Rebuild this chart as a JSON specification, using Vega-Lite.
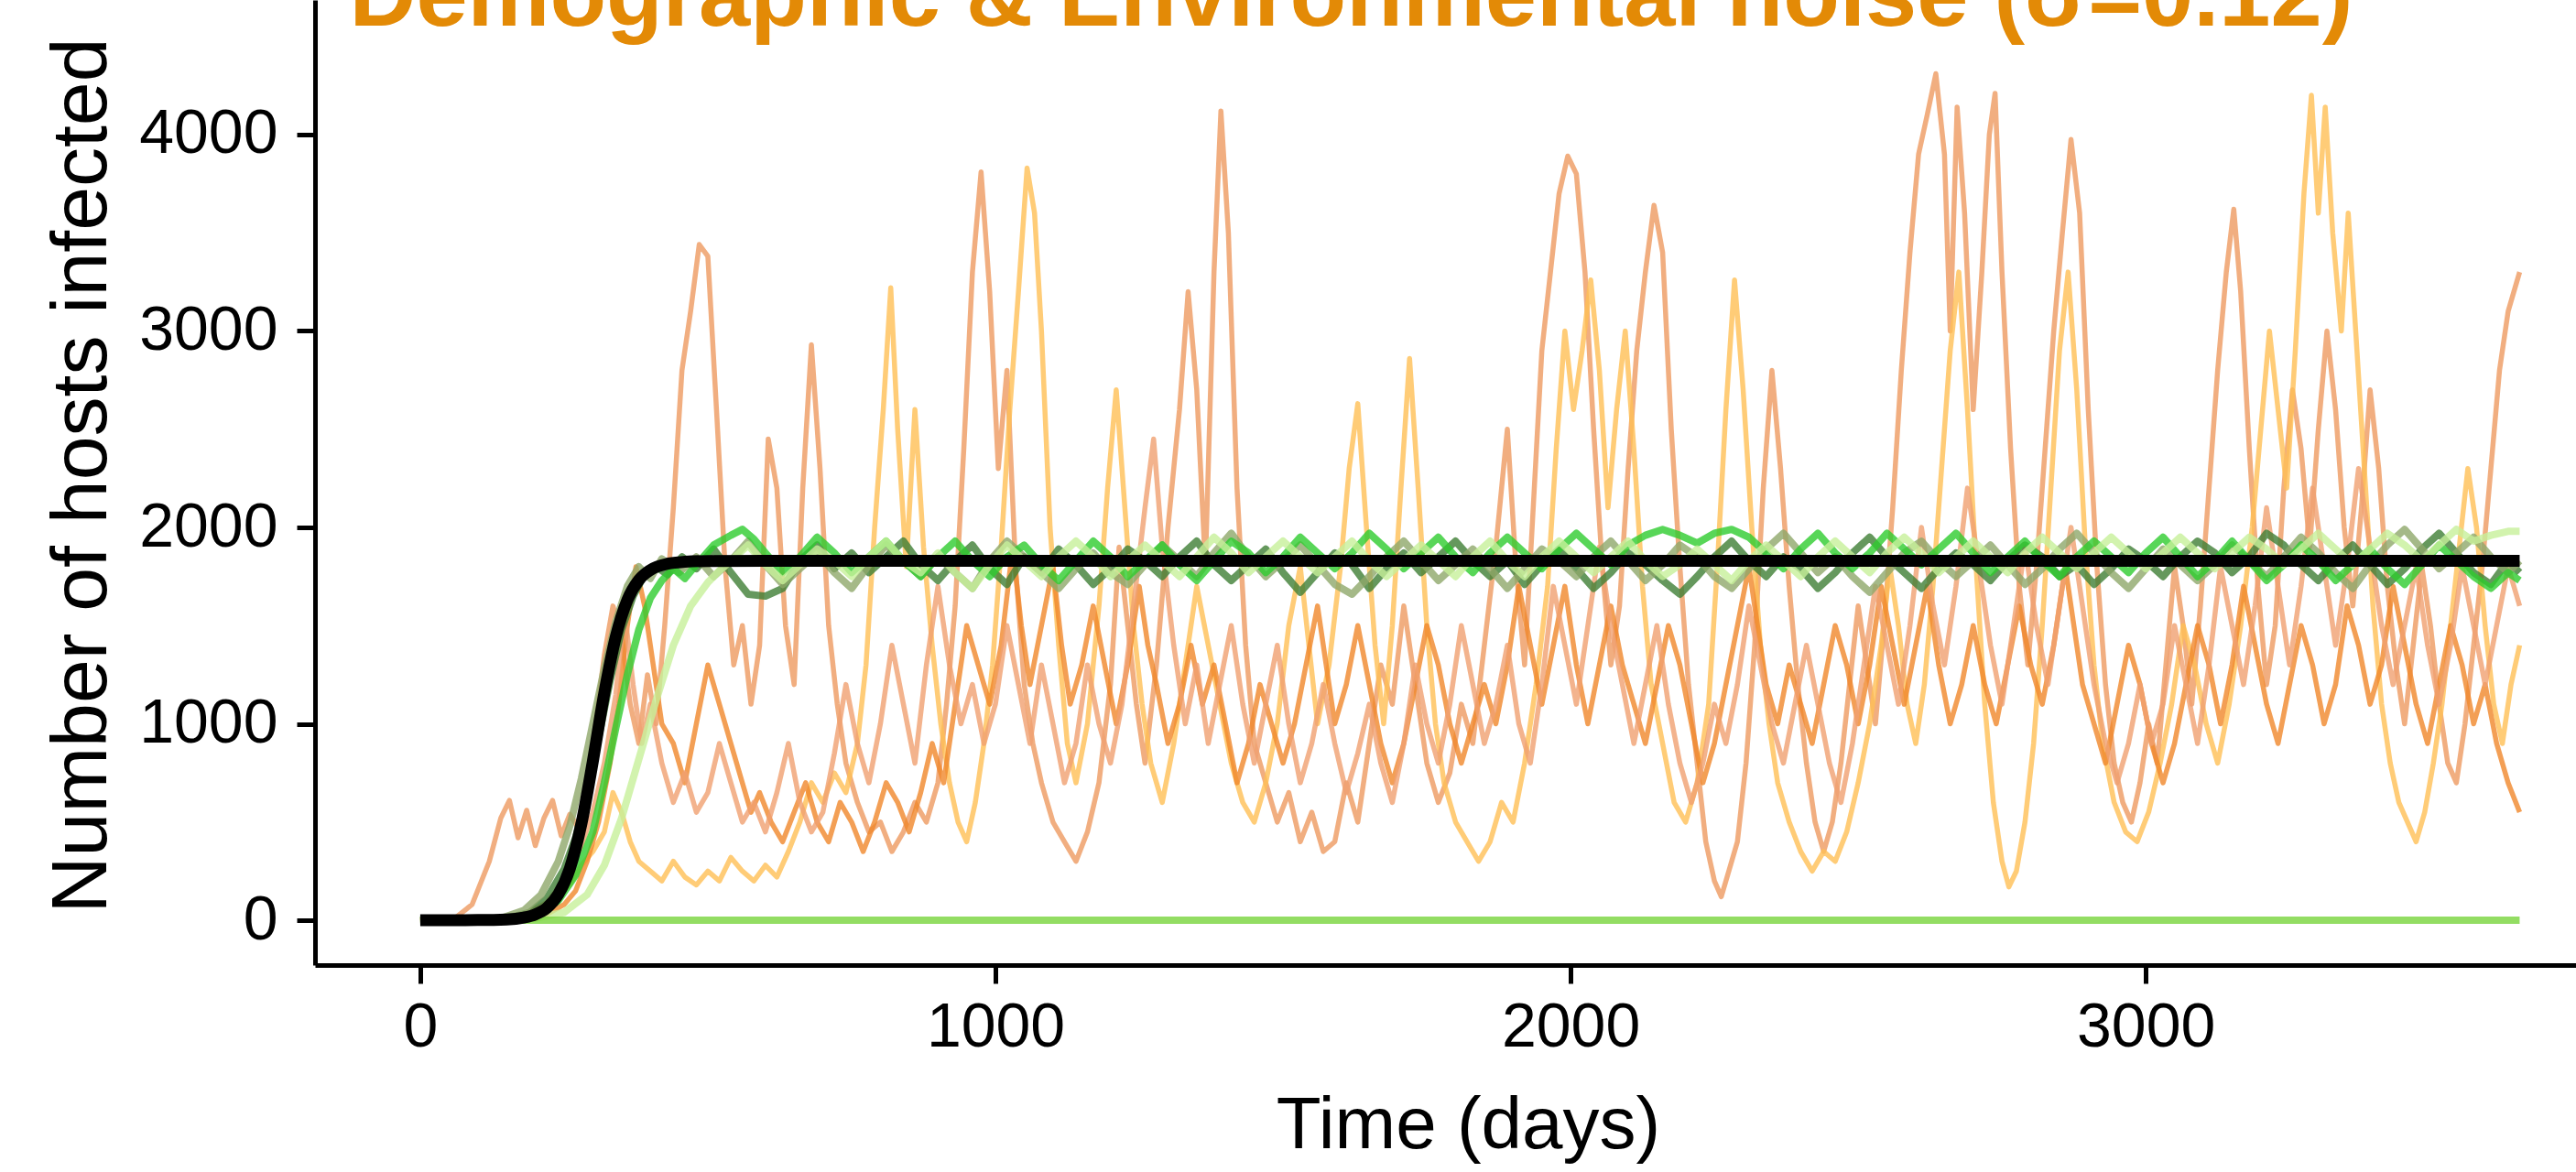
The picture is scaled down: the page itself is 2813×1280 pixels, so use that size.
{
"$schema": "https://vega.github.io/schema/vega-lite/v6.json",
"width": 2469, "height": 1054,
"autosize": "none",
"padding": {"left": 344, "top": 0, "right": 0, "bottom": 226},
"background": "white",
"config": {
  "view": {"stroke": null},
  "axis": {"grid": false, "domainColor": "black", "domainWidth": 5, "tickColor": "black", "tickWidth": 5, "tickSize": 20, "labelFont": "Liberation Sans", "labelFontSize": 68, "labelColor": "black", "titleFont": "Liberation Sans", "titleFontWeight": "normal", "titleColor": "black"}
},
"data": {"values": [
{"s":"S","t":0,"v":0},{"s":"S","t":60,"v":10},{"s":"S","t":90,"v":80},{"s":"S","t":120,"v":300},{"s":"S","t":140,"v":520},{"s":"S","t":155,"v":610},{"s":"S","t":170,"v":420},{"s":"S","t":185,"v":560},{"s":"S","t":200,"v":380},{"s":"S","t":215,"v":520},{"s":"S","t":230,"v":610},{"s":"S","t":245,"v":430},{"s":"S","t":260,"v":540},{"s":"S","t":275,"v":470},{"s":"S","t":290,"v":700},{"s":"S","t":305,"v":1000},{"s":"S","t":320,"v":1350},{"s":"S","t":335,"v":1600},{"s":"S","t":350,"v":1450},{"s":"S","t":365,"v":1100},{"s":"S","t":380,"v":900},{"s":"S","t":395,"v":1250},{"s":"S","t":410,"v":1000},{"s":"S","t":425,"v":1500},{"s":"S","t":440,"v":2100},{"s":"S","t":455,"v":2800},{"s":"S","t":470,"v":3100},{"s":"S","t":485,"v":3440},{"s":"S","t":500,"v":3380},{"s":"S","t":515,"v":2600},{"s":"S","t":530,"v":1800},{"s":"S","t":545,"v":1300},{"s":"S","t":560,"v":1500},{"s":"S","t":575,"v":1100},{"s":"S","t":590,"v":1400},{"s":"S","t":605,"v":2450},{"s":"S","t":620,"v":2200},{"s":"S","t":635,"v":1500},{"s":"S","t":650,"v":1200},{"s":"S","t":665,"v":2200},{"s":"S","t":680,"v":2930},{"s":"S","t":695,"v":2300},{"s":"S","t":710,"v":1500},{"s":"S","t":725,"v":1100},{"s":"S","t":740,"v":800},{"s":"S","t":760,"v":600},{"s":"S","t":780,"v":450},{"s":"S","t":800,"v":500},{"s":"S","t":820,"v":350},{"s":"S","t":840,"v":450},{"s":"S","t":860,"v":600},{"s":"S","t":880,"v":500},{"s":"S","t":900,"v":700},{"s":"S","t":915,"v":1100},{"s":"S","t":930,"v":1600},{"s":"S","t":945,"v":2400},{"s":"S","t":960,"v":3300},{"s":"S","t":975,"v":3810},{"s":"S","t":990,"v":3200},{"s":"S","t":1005,"v":2300},{"s":"S","t":1020,"v":2800},{"s":"S","t":1035,"v":1800},{"s":"S","t":1050,"v":1200},{"s":"S","t":1065,"v":900},{"s":"S","t":1080,"v":700},{"s":"S","t":1100,"v":500},{"s":"S","t":1120,"v":400},{"s":"S","t":1140,"v":300},{"s":"S","t":1160,"v":450},{"s":"S","t":1180,"v":700},{"s":"S","t":1200,"v":1200},{"s":"S","t":1215,"v":1900},{"s":"S","t":1230,"v":1500},{"s":"S","t":1245,"v":1100},{"s":"S","t":1260,"v":800},{"s":"S","t":1280,"v":1300},{"s":"S","t":1300,"v":2000},{"s":"S","t":1320,"v":2600},{"s":"S","t":1335,"v":3200},{"s":"S","t":1350,"v":2700},{"s":"S","t":1365,"v":1800},{"s":"S","t":1380,"v":3300},{"s":"S","t":1392,"v":4120},{"s":"S","t":1405,"v":3500},{"s":"S","t":1420,"v":2200},{"s":"S","t":1435,"v":1400},{"s":"S","t":1450,"v":900},{"s":"S","t":1470,"v":700},{"s":"S","t":1490,"v":500},{"s":"S","t":1510,"v":650},{"s":"S","t":1530,"v":400},{"s":"S","t":1550,"v":550},{"s":"S","t":1570,"v":350},{"s":"S","t":1590,"v":400},{"s":"S","t":1610,"v":700},{"s":"S","t":1630,"v":500},{"s":"S","t":1650,"v":900},{"s":"S","t":1670,"v":1300},{"s":"S","t":1690,"v":1100},{"s":"S","t":1710,"v":1600},{"s":"S","t":1730,"v":1200},{"s":"S","t":1750,"v":800},{"s":"S","t":1770,"v":600},{"s":"S","t":1790,"v":750},{"s":"S","t":1810,"v":1100},{"s":"S","t":1830,"v":900},{"s":"S","t":1850,"v":1400},{"s":"S","t":1870,"v":1900},{"s":"S","t":1890,"v":2500},{"s":"S","t":1905,"v":1800},{"s":"S","t":1920,"v":1300},{"s":"S","t":1935,"v":2100},{"s":"S","t":1950,"v":2900},{"s":"S","t":1965,"v":3300},{"s":"S","t":1980,"v":3700},{"s":"S","t":1995,"v":3890},{"s":"S","t":2010,"v":3800},{"s":"S","t":2025,"v":3300},{"s":"S","t":2040,"v":2500},{"s":"S","t":2055,"v":1800},{"s":"S","t":2070,"v":1300},{"s":"S","t":2085,"v":1600},{"s":"S","t":2100,"v":2300},{"s":"S","t":2115,"v":2900},{"s":"S","t":2130,"v":3300},{"s":"S","t":2145,"v":3640},{"s":"S","t":2160,"v":3400},{"s":"S","t":2175,"v":2500},{"s":"S","t":2190,"v":1800},{"s":"S","t":2205,"v":1200},{"s":"S","t":2220,"v":800},{"s":"S","t":2235,"v":400},{"s":"S","t":2250,"v":200},{"s":"S","t":2262,"v":120},{"s":"S","t":2275,"v":250},{"s":"S","t":2290,"v":400},{"s":"S","t":2305,"v":800},{"s":"S","t":2320,"v":1400},{"s":"S","t":2335,"v":2200},{"s":"S","t":2350,"v":2800},{"s":"S","t":2365,"v":2300},{"s":"S","t":2380,"v":1700},{"s":"S","t":2395,"v":1200},{"s":"S","t":2410,"v":800},{"s":"S","t":2425,"v":500},{"s":"S","t":2440,"v":350},{"s":"S","t":2455,"v":500},{"s":"S","t":2470,"v":800},{"s":"S","t":2485,"v":1200},{"s":"S","t":2500,"v":1600},{"s":"S","t":2515,"v":1300},{"s":"S","t":2530,"v":1000},{"s":"S","t":2545,"v":1500},{"s":"S","t":2560,"v":2100},{"s":"S","t":2575,"v":2800},{"s":"S","t":2590,"v":3400},{"s":"S","t":2605,"v":3900},{"s":"S","t":2620,"v":4100},{"s":"S","t":2635,"v":4310},{"s":"S","t":2650,"v":3900},{"s":"S","t":2660,"v":3000},{"s":"S","t":2672,"v":4140},{"s":"S","t":2685,"v":3600},{"s":"S","t":2700,"v":2600},{"s":"S","t":2715,"v":3300},{"s":"S","t":2728,"v":4000},{"s":"S","t":2738,"v":4210},{"s":"S","t":2750,"v":3300},{"s":"S","t":2765,"v":2400},{"s":"S","t":2780,"v":1700},{"s":"S","t":2795,"v":1300},{"s":"S","t":2810,"v":1800},{"s":"S","t":2825,"v":2400},{"s":"S","t":2840,"v":3000},{"s":"S","t":2855,"v":3500},{"s":"S","t":2870,"v":3975},{"s":"S","t":2885,"v":3600},{"s":"S","t":2900,"v":2600},{"s":"S","t":2915,"v":1800},{"s":"S","t":2930,"v":1200},{"s":"S","t":2945,"v":800},{"s":"S","t":2960,"v":600},{"s":"S","t":2975,"v":500},{"s":"S","t":2990,"v":700},{"s":"S","t":3005,"v":1000},{"s":"S","t":3020,"v":800},{"s":"S","t":3035,"v":1300},{"s":"S","t":3050,"v":1800},{"s":"S","t":3065,"v":1500},{"s":"S","t":3080,"v":1100},{"s":"S","t":3095,"v":1600},{"s":"S","t":3110,"v":2200},{"s":"S","t":3125,"v":2800},{"s":"S","t":3140,"v":3300},{"s":"S","t":3153,"v":3620},{"s":"S","t":3165,"v":3200},{"s":"S","t":3180,"v":2400},{"s":"S","t":3195,"v":1700},{"s":"S","t":3210,"v":1200},{"s":"S","t":3225,"v":1500},{"s":"S","t":3240,"v":2200},{"s":"S","t":3255,"v":2700},{"s":"S","t":3270,"v":2400},{"s":"S","t":3285,"v":1900},{"s":"S","t":3300,"v":2500},{"s":"S","t":3315,"v":3000},{"s":"S","t":3330,"v":2600},{"s":"S","t":3345,"v":2000},{"s":"S","t":3360,"v":1600},{"s":"S","t":3375,"v":2100},{"s":"S","t":3390,"v":2700},{"s":"S","t":3405,"v":2300},{"s":"S","t":3420,"v":1700},{"s":"S","t":3435,"v":1300},{"s":"S","t":3450,"v":1000},{"s":"S","t":3465,"v":1400},{"s":"S","t":3480,"v":1800},{"s":"S","t":3495,"v":1500},{"s":"S","t":3510,"v":1100},{"s":"S","t":3525,"v":800},{"s":"S","t":3540,"v":700},{"s":"S","t":3555,"v":1000},{"s":"S","t":3570,"v":1400},{"s":"S","t":3585,"v":1800},{"s":"S","t":3600,"v":2300},{"s":"S","t":3615,"v":2800},{"s":"S","t":3630,"v":3100},{"s":"S","t":3650,"v":3300},
{"s":"Y","t":0,"v":0},{"s":"Y","t":150,"v":10},{"s":"Y","t":200,"v":40},{"s":"Y","t":230,"v":100},{"s":"Y","t":260,"v":180},{"s":"Y","t":280,"v":280},{"s":"Y","t":300,"v":350},{"s":"Y","t":320,"v":450},{"s":"Y","t":335,"v":650},{"s":"Y","t":350,"v":550},{"s":"Y","t":365,"v":400},{"s":"Y","t":380,"v":300},{"s":"Y","t":400,"v":250},{"s":"Y","t":420,"v":200},{"s":"Y","t":440,"v":300},{"s":"Y","t":460,"v":220},{"s":"Y","t":480,"v":180},{"s":"Y","t":500,"v":250},{"s":"Y","t":520,"v":200},{"s":"Y","t":540,"v":320},{"s":"Y","t":560,"v":250},{"s":"Y","t":580,"v":200},{"s":"Y","t":600,"v":280},{"s":"Y","t":620,"v":220},{"s":"Y","t":640,"v":350},{"s":"Y","t":660,"v":500},{"s":"Y","t":680,"v":700},{"s":"Y","t":700,"v":600},{"s":"Y","t":720,"v":750},{"s":"Y","t":740,"v":650},{"s":"Y","t":760,"v":900},{"s":"Y","t":775,"v":1300},{"s":"Y","t":790,"v":2000},{"s":"Y","t":805,"v":2600},{"s":"Y","t":818,"v":3220},{"s":"Y","t":830,"v":2500},{"s":"Y","t":845,"v":1800},{"s":"Y","t":860,"v":2600},{"s":"Y","t":875,"v":1900},{"s":"Y","t":890,"v":1400},{"s":"Y","t":905,"v":1000},{"s":"Y","t":920,"v":700},{"s":"Y","t":935,"v":500},{"s":"Y","t":950,"v":400},{"s":"Y","t":965,"v":600},{"s":"Y","t":980,"v":900},{"s":"Y","t":995,"v":1300},{"s":"Y","t":1010,"v":1900},{"s":"Y","t":1025,"v":2600},{"s":"Y","t":1040,"v":3200},{"s":"Y","t":1055,"v":3830},{"s":"Y","t":1068,"v":3600},{"s":"Y","t":1080,"v":3000},{"s":"Y","t":1095,"v":2000},{"s":"Y","t":1110,"v":1400},{"s":"Y","t":1125,"v":900},{"s":"Y","t":1140,"v":700},{"s":"Y","t":1160,"v":1000},{"s":"Y","t":1180,"v":1600},{"s":"Y","t":1195,"v":2200},{"s":"Y","t":1210,"v":2700},{"s":"Y","t":1225,"v":2100},{"s":"Y","t":1240,"v":1500},{"s":"Y","t":1255,"v":1100},{"s":"Y","t":1270,"v":800},{"s":"Y","t":1290,"v":600},{"s":"Y","t":1310,"v":900},{"s":"Y","t":1330,"v":1300},{"s":"Y","t":1350,"v":1700},{"s":"Y","t":1370,"v":1400},{"s":"Y","t":1390,"v":1100},{"s":"Y","t":1410,"v":800},{"s":"Y","t":1430,"v":600},{"s":"Y","t":1450,"v":500},{"s":"Y","t":1470,"v":700},{"s":"Y","t":1490,"v":1000},{"s":"Y","t":1510,"v":1500},{"s":"Y","t":1530,"v":1800},{"s":"Y","t":1545,"v":1400},{"s":"Y","t":1560,"v":1000},{"s":"Y","t":1580,"v":1300},{"s":"Y","t":1600,"v":1800},{"s":"Y","t":1615,"v":2300},{"s":"Y","t":1630,"v":2630},{"s":"Y","t":1645,"v":2000},{"s":"Y","t":1660,"v":1400},{"s":"Y","t":1675,"v":1000},{"s":"Y","t":1690,"v":1500},{"s":"Y","t":1705,"v":2200},{"s":"Y","t":1720,"v":2860},{"s":"Y","t":1735,"v":2200},{"s":"Y","t":1750,"v":1500},{"s":"Y","t":1765,"v":1000},{"s":"Y","t":1780,"v":700},{"s":"Y","t":1800,"v":500},{"s":"Y","t":1820,"v":400},{"s":"Y","t":1840,"v":300},{"s":"Y","t":1860,"v":400},{"s":"Y","t":1880,"v":600},{"s":"Y","t":1900,"v":500},{"s":"Y","t":1920,"v":800},{"s":"Y","t":1940,"v":1200},{"s":"Y","t":1960,"v":1700},{"s":"Y","t":1975,"v":2400},{"s":"Y","t":1990,"v":3000},{"s":"Y","t":2005,"v":2600},{"s":"Y","t":2020,"v":2900},{"s":"Y","t":2035,"v":3260},{"s":"Y","t":2050,"v":2800},{"s":"Y","t":2065,"v":2100},{"s":"Y","t":2080,"v":2600},{"s":"Y","t":2095,"v":3000},{"s":"Y","t":2110,"v":2400},{"s":"Y","t":2125,"v":1700},{"s":"Y","t":2140,"v":1200},{"s":"Y","t":2160,"v":900},{"s":"Y","t":2180,"v":600},{"s":"Y","t":2200,"v":500},{"s":"Y","t":2220,"v":700},{"s":"Y","t":2240,"v":1100},{"s":"Y","t":2255,"v":1800},{"s":"Y","t":2270,"v":2600},{"s":"Y","t":2285,"v":3260},{"s":"Y","t":2300,"v":2700},{"s":"Y","t":2315,"v":2000},{"s":"Y","t":2330,"v":1400},{"s":"Y","t":2345,"v":1000},{"s":"Y","t":2360,"v":700},{"s":"Y","t":2380,"v":500},{"s":"Y","t":2400,"v":350},{"s":"Y","t":2420,"v":250},{"s":"Y","t":2440,"v":350},{"s":"Y","t":2460,"v":300},{"s":"Y","t":2480,"v":450},{"s":"Y","t":2500,"v":700},{"s":"Y","t":2520,"v":1000},{"s":"Y","t":2540,"v":1400},{"s":"Y","t":2555,"v":1800},{"s":"Y","t":2570,"v":1500},{"s":"Y","t":2585,"v":1100},{"s":"Y","t":2600,"v":900},{"s":"Y","t":2615,"v":1200},{"s":"Y","t":2630,"v":1700},{"s":"Y","t":2645,"v":2300},{"s":"Y","t":2660,"v":2900},{"s":"Y","t":2675,"v":3300},{"s":"Y","t":2690,"v":2600},{"s":"Y","t":2705,"v":1800},{"s":"Y","t":2720,"v":1100},{"s":"Y","t":2735,"v":600},{"s":"Y","t":2750,"v":300},{"s":"Y","t":2762,"v":170},{"s":"Y","t":2775,"v":250},{"s":"Y","t":2790,"v":500},{"s":"Y","t":2805,"v":900},{"s":"Y","t":2820,"v":1500},{"s":"Y","t":2835,"v":2200},{"s":"Y","t":2850,"v":2900},{"s":"Y","t":2865,"v":3300},{"s":"Y","t":2880,"v":2700},{"s":"Y","t":2895,"v":1900},{"s":"Y","t":2910,"v":1300},{"s":"Y","t":2925,"v":900},{"s":"Y","t":2945,"v":600},{"s":"Y","t":2965,"v":450},{"s":"Y","t":2985,"v":400},{"s":"Y","t":3005,"v":550},{"s":"Y","t":3025,"v":800},{"s":"Y","t":3045,"v":1100},{"s":"Y","t":3065,"v":1500},{"s":"Y","t":3085,"v":1300},{"s":"Y","t":3105,"v":1000},{"s":"Y","t":3125,"v":800},{"s":"Y","t":3145,"v":1100},{"s":"Y","t":3165,"v":1500},{"s":"Y","t":3185,"v":2000},{"s":"Y","t":3200,"v":2500},{"s":"Y","t":3215,"v":3000},{"s":"Y","t":3230,"v":2600},{"s":"Y","t":3245,"v":2200},{"s":"Y","t":3260,"v":2900},{"s":"Y","t":3275,"v":3700},{"s":"Y","t":3288,"v":4200},{"s":"Y","t":3300,"v":3600},{"s":"Y","t":3312,"v":4140},{"s":"Y","t":3325,"v":3500},{"s":"Y","t":3340,"v":3000},{"s":"Y","t":3352,"v":3600},{"s":"Y","t":3365,"v":3000},{"s":"Y","t":3380,"v":2300},{"s":"Y","t":3395,"v":1600},{"s":"Y","t":3410,"v":1100},{"s":"Y","t":3425,"v":800},{"s":"Y","t":3440,"v":600},{"s":"Y","t":3455,"v":500},{"s":"Y","t":3470,"v":400},{"s":"Y","t":3485,"v":550},{"s":"Y","t":3500,"v":800},{"s":"Y","t":3515,"v":1100},{"s":"Y","t":3530,"v":1500},{"s":"Y","t":3545,"v":1900},{"s":"Y","t":3560,"v":2300},{"s":"Y","t":3575,"v":2000},{"s":"Y","t":3590,"v":1500},{"s":"Y","t":3605,"v":1100},{"s":"Y","t":3620,"v":900},{"s":"Y","t":3635,"v":1200},{"s":"Y","t":3650,"v":1400},
{"s":"O","t":0,"v":0},{"s":"O","t":180,"v":5},{"s":"O","t":220,"v":30},{"s":"O","t":250,"v":80},{"s":"O","t":270,"v":150},{"s":"O","t":290,"v":300},{"s":"O","t":310,"v":500},{"s":"O","t":330,"v":800},{"s":"O","t":345,"v":1100},{"s":"O","t":360,"v":1500},{"s":"O","t":375,"v":1800},{"s":"O","t":390,"v":1600},{"s":"O","t":405,"v":1300},{"s":"O","t":420,"v":1000},{"s":"O","t":440,"v":900},{"s":"O","t":460,"v":700},{"s":"O","t":480,"v":1000},{"s":"O","t":500,"v":1300},{"s":"O","t":520,"v":1100},{"s":"O","t":540,"v":900},{"s":"O","t":560,"v":700},{"s":"O","t":575,"v":550},{"s":"O","t":590,"v":650},{"s":"O","t":610,"v":500},{"s":"O","t":630,"v":400},{"s":"O","t":650,"v":550},{"s":"O","t":670,"v":700},{"s":"O","t":690,"v":500},{"s":"O","t":710,"v":400},{"s":"O","t":730,"v":600},{"s":"O","t":750,"v":500},{"s":"O","t":770,"v":350},{"s":"O","t":790,"v":500},{"s":"O","t":810,"v":700},{"s":"O","t":830,"v":600},{"s":"O","t":850,"v":450},{"s":"O","t":870,"v":650},{"s":"O","t":890,"v":900},{"s":"O","t":910,"v":700},{"s":"O","t":930,"v":1100},{"s":"O","t":950,"v":1500},{"s":"O","t":970,"v":1300},{"s":"O","t":990,"v":1100},{"s":"O","t":1010,"v":1400},{"s":"O","t":1030,"v":1900},{"s":"O","t":1045,"v":1500},{"s":"O","t":1060,"v":1200},{"s":"O","t":1080,"v":1500},{"s":"O","t":1100,"v":1800},{"s":"O","t":1115,"v":1400},{"s":"O","t":1130,"v":1100},{"s":"O","t":1150,"v":1300},{"s":"O","t":1170,"v":1600},{"s":"O","t":1190,"v":1300},{"s":"O","t":1210,"v":1000},{"s":"O","t":1230,"v":1300},{"s":"O","t":1250,"v":1700},{"s":"O","t":1265,"v":1400},{"s":"O","t":1280,"v":1200},{"s":"O","t":1300,"v":900},{"s":"O","t":1320,"v":1100},{"s":"O","t":1340,"v":1400},{"s":"O","t":1360,"v":1100},{"s":"O","t":1380,"v":1300},{"s":"O","t":1400,"v":1000},{"s":"O","t":1420,"v":700},{"s":"O","t":1440,"v":900},{"s":"O","t":1460,"v":1200},{"s":"O","t":1480,"v":1000},{"s":"O","t":1500,"v":800},{"s":"O","t":1520,"v":1000},{"s":"O","t":1540,"v":1300},{"s":"O","t":1560,"v":1600},{"s":"O","t":1575,"v":1300},{"s":"O","t":1590,"v":1000},{"s":"O","t":1610,"v":1200},{"s":"O","t":1630,"v":1500},{"s":"O","t":1650,"v":1200},{"s":"O","t":1670,"v":900},{"s":"O","t":1690,"v":700},{"s":"O","t":1710,"v":900},{"s":"O","t":1730,"v":1200},{"s":"O","t":1750,"v":1500},{"s":"O","t":1770,"v":1300},{"s":"O","t":1790,"v":1000},{"s":"O","t":1810,"v":800},{"s":"O","t":1830,"v":1000},{"s":"O","t":1850,"v":1200},{"s":"O","t":1870,"v":1000},{"s":"O","t":1890,"v":1300},{"s":"O","t":1910,"v":1700},{"s":"O","t":1930,"v":1400},{"s":"O","t":1950,"v":1100},{"s":"O","t":1970,"v":1400},{"s":"O","t":1990,"v":1700},{"s":"O","t":2010,"v":1300},{"s":"O","t":2030,"v":1000},{"s":"O","t":2050,"v":1300},{"s":"O","t":2070,"v":1600},{"s":"O","t":2090,"v":1300},{"s":"O","t":2110,"v":1100},{"s":"O","t":2130,"v":900},{"s":"O","t":2150,"v":1200},{"s":"O","t":2170,"v":1500},{"s":"O","t":2190,"v":1300},{"s":"O","t":2210,"v":1000},{"s":"O","t":2230,"v":700},{"s":"O","t":2250,"v":900},{"s":"O","t":2270,"v":1200},{"s":"O","t":2290,"v":1500},{"s":"O","t":2310,"v":1800},{"s":"O","t":2325,"v":1500},{"s":"O","t":2340,"v":1200},{"s":"O","t":2360,"v":1000},{"s":"O","t":2380,"v":1300},{"s":"O","t":2400,"v":1100},{"s":"O","t":2420,"v":900},{"s":"O","t":2440,"v":1200},{"s":"O","t":2460,"v":1500},{"s":"O","t":2480,"v":1300},{"s":"O","t":2500,"v":1000},{"s":"O","t":2520,"v":1300},{"s":"O","t":2540,"v":1700},{"s":"O","t":2560,"v":1400},{"s":"O","t":2580,"v":1100},{"s":"O","t":2600,"v":1400},{"s":"O","t":2620,"v":1700},{"s":"O","t":2640,"v":1300},{"s":"O","t":2660,"v":1000},{"s":"O","t":2680,"v":1200},{"s":"O","t":2700,"v":1500},{"s":"O","t":2720,"v":1200},{"s":"O","t":2740,"v":1000},{"s":"O","t":2760,"v":1300},{"s":"O","t":2780,"v":1600},{"s":"O","t":2800,"v":1300},{"s":"O","t":2820,"v":1100},{"s":"O","t":2840,"v":1400},{"s":"O","t":2860,"v":1800},{"s":"O","t":2875,"v":1500},{"s":"O","t":2890,"v":1200},{"s":"O","t":2910,"v":1000},{"s":"O","t":2930,"v":800},{"s":"O","t":2950,"v":1100},{"s":"O","t":2970,"v":1400},{"s":"O","t":2990,"v":1200},{"s":"O","t":3010,"v":900},{"s":"O","t":3030,"v":700},{"s":"O","t":3050,"v":900},{"s":"O","t":3070,"v":1200},{"s":"O","t":3090,"v":1500},{"s":"O","t":3110,"v":1300},{"s":"O","t":3130,"v":1000},{"s":"O","t":3150,"v":1300},{"s":"O","t":3170,"v":1700},{"s":"O","t":3190,"v":1400},{"s":"O","t":3210,"v":1100},{"s":"O","t":3230,"v":900},{"s":"O","t":3250,"v":1200},{"s":"O","t":3270,"v":1500},{"s":"O","t":3290,"v":1300},{"s":"O","t":3310,"v":1000},{"s":"O","t":3330,"v":1200},{"s":"O","t":3350,"v":1600},{"s":"O","t":3370,"v":1400},{"s":"O","t":3390,"v":1100},{"s":"O","t":3410,"v":1300},{"s":"O","t":3430,"v":1700},{"s":"O","t":3450,"v":1400},{"s":"O","t":3470,"v":1100},{"s":"O","t":3490,"v":900},{"s":"O","t":3510,"v":1200},{"s":"O","t":3530,"v":1500},{"s":"O","t":3550,"v":1300},{"s":"O","t":3570,"v":1000},{"s":"O","t":3590,"v":1200},{"s":"O","t":3610,"v":900},{"s":"O","t":3630,"v":700},{"s":"O","t":3650,"v":550},
{"s":"S2","t":0,"v":0},{"s":"S2","t":120,"v":5},{"s":"S2","t":180,"v":30},{"s":"S2","t":220,"v":90},{"s":"S2","t":250,"v":200},{"s":"S2","t":280,"v":380},{"s":"S2","t":300,"v":550},{"s":"S2","t":320,"v":800},{"s":"S2","t":340,"v":1150},{"s":"S2","t":355,"v":1580},{"s":"S2","t":370,"v":1200},{"s":"S2","t":385,"v":900},{"s":"S2","t":400,"v":1100},{"s":"S2","t":420,"v":800},{"s":"S2","t":440,"v":600},{"s":"S2","t":460,"v":750},{"s":"S2","t":480,"v":550},{"s":"S2","t":500,"v":650},{"s":"S2","t":520,"v":900},{"s":"S2","t":540,"v":700},{"s":"S2","t":560,"v":500},{"s":"S2","t":580,"v":600},{"s":"S2","t":600,"v":450},{"s":"S2","t":620,"v":650},{"s":"S2","t":640,"v":900},{"s":"S2","t":660,"v":600},{"s":"S2","t":680,"v":450},{"s":"S2","t":700,"v":550},{"s":"S2","t":720,"v":850},{"s":"S2","t":740,"v":1200},{"s":"S2","t":760,"v":900},{"s":"S2","t":780,"v":700},{"s":"S2","t":800,"v":1000},{"s":"S2","t":820,"v":1400},{"s":"S2","t":840,"v":1100},{"s":"S2","t":860,"v":800},{"s":"S2","t":880,"v":1300},{"s":"S2","t":900,"v":1700},{"s":"S2","t":920,"v":1300},{"s":"S2","t":940,"v":1000},{"s":"S2","t":960,"v":1200},{"s":"S2","t":980,"v":900},{"s":"S2","t":1000,"v":1100},{"s":"S2","t":1020,"v":1500},{"s":"S2","t":1040,"v":1200},{"s":"S2","t":1060,"v":900},{"s":"S2","t":1080,"v":1300},{"s":"S2","t":1100,"v":1000},{"s":"S2","t":1120,"v":700},{"s":"S2","t":1140,"v":900},{"s":"S2","t":1160,"v":1300},{"s":"S2","t":1180,"v":1000},{"s":"S2","t":1200,"v":800},{"s":"S2","t":1220,"v":1100},{"s":"S2","t":1240,"v":1600},{"s":"S2","t":1260,"v":2100},{"s":"S2","t":1275,"v":2450},{"s":"S2","t":1290,"v":1900},{"s":"S2","t":1310,"v":1400},{"s":"S2","t":1330,"v":1000},{"s":"S2","t":1350,"v":1300},{"s":"S2","t":1370,"v":900},{"s":"S2","t":1390,"v":1200},{"s":"S2","t":1410,"v":1500},{"s":"S2","t":1430,"v":1100},{"s":"S2","t":1450,"v":800},{"s":"S2","t":1470,"v":1100},{"s":"S2","t":1490,"v":1400},{"s":"S2","t":1510,"v":1000},{"s":"S2","t":1530,"v":700},{"s":"S2","t":1550,"v":900},{"s":"S2","t":1570,"v":1200},{"s":"S2","t":1590,"v":900},{"s":"S2","t":1610,"v":650},{"s":"S2","t":1630,"v":850},{"s":"S2","t":1650,"v":1100},{"s":"S2","t":1670,"v":800},{"s":"S2","t":1690,"v":600},{"s":"S2","t":1710,"v":900},{"s":"S2","t":1730,"v":1300},{"s":"S2","t":1750,"v":1000},{"s":"S2","t":1770,"v":800},{"s":"S2","t":1790,"v":1100},{"s":"S2","t":1810,"v":1500},{"s":"S2","t":1830,"v":1200},{"s":"S2","t":1850,"v":900},{"s":"S2","t":1870,"v":1100},{"s":"S2","t":1890,"v":1400},{"s":"S2","t":1910,"v":1000},{"s":"S2","t":1930,"v":800},{"s":"S2","t":1950,"v":1200},{"s":"S2","t":1970,"v":1700},{"s":"S2","t":1990,"v":1400},{"s":"S2","t":2010,"v":1100},{"s":"S2","t":2030,"v":1500},{"s":"S2","t":2050,"v":1900},{"s":"S2","t":2070,"v":1500},{"s":"S2","t":2090,"v":1200},{"s":"S2","t":2110,"v":900},{"s":"S2","t":2130,"v":1200},{"s":"S2","t":2150,"v":1500},{"s":"S2","t":2170,"v":1100},{"s":"S2","t":2190,"v":800},{"s":"S2","t":2210,"v":600},{"s":"S2","t":2230,"v":800},{"s":"S2","t":2250,"v":1100},{"s":"S2","t":2270,"v":900},{"s":"S2","t":2290,"v":1200},{"s":"S2","t":2310,"v":1600},{"s":"S2","t":2330,"v":1300},{"s":"S2","t":2350,"v":1000},{"s":"S2","t":2370,"v":800},{"s":"S2","t":2390,"v":1100},{"s":"S2","t":2410,"v":1400},{"s":"S2","t":2430,"v":1100},{"s":"S2","t":2450,"v":800},{"s":"S2","t":2470,"v":600},{"s":"S2","t":2490,"v":900},{"s":"S2","t":2510,"v":1300},{"s":"S2","t":2530,"v":1700},{"s":"S2","t":2550,"v":1400},{"s":"S2","t":2570,"v":1100},{"s":"S2","t":2590,"v":1500},{"s":"S2","t":2610,"v":2000},{"s":"S2","t":2630,"v":1600},{"s":"S2","t":2650,"v":1300},{"s":"S2","t":2670,"v":1700},{"s":"S2","t":2690,"v":2200},{"s":"S2","t":2710,"v":1800},{"s":"S2","t":2730,"v":1400},{"s":"S2","t":2750,"v":1100},{"s":"S2","t":2770,"v":1500},{"s":"S2","t":2790,"v":1900},{"s":"S2","t":2810,"v":1500},{"s":"S2","t":2830,"v":1200},{"s":"S2","t":2850,"v":1600},{"s":"S2","t":2870,"v":2000},{"s":"S2","t":2890,"v":1600},{"s":"S2","t":2910,"v":1200},{"s":"S2","t":2930,"v":900},{"s":"S2","t":2950,"v":700},{"s":"S2","t":2970,"v":900},{"s":"S2","t":2990,"v":1200},{"s":"S2","t":3010,"v":900},{"s":"S2","t":3030,"v":1100},{"s":"S2","t":3050,"v":1500},{"s":"S2","t":3070,"v":1200},{"s":"S2","t":3090,"v":900},{"s":"S2","t":3110,"v":1300},{"s":"S2","t":3130,"v":1800},{"s":"S2","t":3150,"v":1500},{"s":"S2","t":3170,"v":1200},{"s":"S2","t":3190,"v":1600},{"s":"S2","t":3210,"v":2100},{"s":"S2","t":3230,"v":1700},{"s":"S2","t":3250,"v":1300},{"s":"S2","t":3270,"v":1700},{"s":"S2","t":3290,"v":2200},{"s":"S2","t":3310,"v":1800},{"s":"S2","t":3330,"v":1400},{"s":"S2","t":3350,"v":1800},{"s":"S2","t":3370,"v":2300},{"s":"S2","t":3390,"v":1900},{"s":"S2","t":3410,"v":1500},{"s":"S2","t":3430,"v":1200},{"s":"S2","t":3450,"v":1500},{"s":"S2","t":3470,"v":1800},{"s":"S2","t":3490,"v":1400},{"s":"S2","t":3510,"v":1100},{"s":"S2","t":3530,"v":1400},{"s":"S2","t":3550,"v":1800},{"s":"S2","t":3570,"v":1500},{"s":"S2","t":3590,"v":1200},{"s":"S2","t":3610,"v":1500},{"s":"S2","t":3630,"v":1800},{"s":"S2","t":3650,"v":1600},
{"s":"G1","t":0,"v":0},{"s":"G1","t":150,"v":10},{"s":"G1","t":190,"v":40},{"s":"G1","t":220,"v":110},{"s":"G1","t":250,"v":260},{"s":"G1","t":270,"v":420},{"s":"G1","t":290,"v":650},{"s":"G1","t":310,"v":930},{"s":"G1","t":330,"v":1220},{"s":"G1","t":350,"v":1480},{"s":"G1","t":370,"v":1650},{"s":"G1","t":390,"v":1760},{"s":"G1","t":410,"v":1800},{"s":"G1","t":430,"v":1760},{"s":"G1","t":455,"v":1850},{"s":"G1","t":480,"v":1790},{"s":"G1","t":510,"v":1890},{"s":"G1","t":540,"v":1770},{"s":"G1","t":570,"v":1660},{"s":"G1","t":600,"v":1650},{"s":"G1","t":630,"v":1690},{"s":"G1","t":660,"v":1830},{"s":"G1","t":690,"v":1910},{"s":"G1","t":720,"v":1790},{"s":"G1","t":750,"v":1870},{"s":"G1","t":780,"v":1770},{"s":"G1","t":810,"v":1850},{"s":"G1","t":840,"v":1930},{"s":"G1","t":870,"v":1810},{"s":"G1","t":900,"v":1730},{"s":"G1","t":930,"v":1830},{"s":"G1","t":960,"v":1910},{"s":"G1","t":990,"v":1790},{"s":"G1","t":1020,"v":1710},{"s":"G1","t":1050,"v":1850},{"s":"G1","t":1080,"v":1770},{"s":"G1","t":1110,"v":1890},{"s":"G1","t":1140,"v":1810},{"s":"G1","t":1170,"v":1710},{"s":"G1","t":1200,"v":1790},{"s":"G1","t":1230,"v":1890},{"s":"G1","t":1260,"v":1830},{"s":"G1","t":1290,"v":1750},{"s":"G1","t":1320,"v":1850},{"s":"G1","t":1350,"v":1930},{"s":"G1","t":1380,"v":1810},{"s":"G1","t":1410,"v":1730},{"s":"G1","t":1440,"v":1810},{"s":"G1","t":1470,"v":1890},{"s":"G1","t":1500,"v":1770},{"s":"G1","t":1530,"v":1670},{"s":"G1","t":1560,"v":1770},{"s":"G1","t":1590,"v":1870},{"s":"G1","t":1620,"v":1810},{"s":"G1","t":1650,"v":1690},{"s":"G1","t":1680,"v":1790},{"s":"G1","t":1710,"v":1870},{"s":"G1","t":1740,"v":1770},{"s":"G1","t":1770,"v":1850},{"s":"G1","t":1800,"v":1930},{"s":"G1","t":1830,"v":1830},{"s":"G1","t":1860,"v":1750},{"s":"G1","t":1890,"v":1830},{"s":"G1","t":1920,"v":1710},{"s":"G1","t":1950,"v":1810},{"s":"G1","t":1980,"v":1890},{"s":"G1","t":2010,"v":1790},{"s":"G1","t":2040,"v":1690},{"s":"G1","t":2070,"v":1770},{"s":"G1","t":2100,"v":1870},{"s":"G1","t":2130,"v":1810},{"s":"G1","t":2160,"v":1730},{"s":"G1","t":2190,"v":1660},{"s":"G1","t":2220,"v":1750},{"s":"G1","t":2250,"v":1850},{"s":"G1","t":2280,"v":1930},{"s":"G1","t":2310,"v":1830},{"s":"G1","t":2340,"v":1750},{"s":"G1","t":2370,"v":1850},{"s":"G1","t":2400,"v":1790},{"s":"G1","t":2430,"v":1690},{"s":"G1","t":2460,"v":1770},{"s":"G1","t":2490,"v":1870},{"s":"G1","t":2520,"v":1950},{"s":"G1","t":2550,"v":1850},{"s":"G1","t":2580,"v":1770},{"s":"G1","t":2610,"v":1690},{"s":"G1","t":2640,"v":1790},{"s":"G1","t":2670,"v":1870},{"s":"G1","t":2700,"v":1810},{"s":"G1","t":2730,"v":1730},{"s":"G1","t":2760,"v":1830},{"s":"G1","t":2790,"v":1910},{"s":"G1","t":2820,"v":1850},{"s":"G1","t":2850,"v":1750},{"s":"G1","t":2880,"v":1810},{"s":"G1","t":2910,"v":1710},{"s":"G1","t":2940,"v":1790},{"s":"G1","t":2970,"v":1890},{"s":"G1","t":3000,"v":1830},{"s":"G1","t":3030,"v":1750},{"s":"G1","t":3060,"v":1850},{"s":"G1","t":3090,"v":1930},{"s":"G1","t":3120,"v":1870},{"s":"G1","t":3150,"v":1770},{"s":"G1","t":3180,"v":1850},{"s":"G1","t":3210,"v":1970},{"s":"G1","t":3240,"v":1910},{"s":"G1","t":3270,"v":1810},{"s":"G1","t":3300,"v":1730},{"s":"G1","t":3330,"v":1830},{"s":"G1","t":3360,"v":1910},{"s":"G1","t":3390,"v":1810},{"s":"G1","t":3420,"v":1710},{"s":"G1","t":3450,"v":1790},{"s":"G1","t":3480,"v":1890},{"s":"G1","t":3510,"v":1970},{"s":"G1","t":3540,"v":1870},{"s":"G1","t":3570,"v":1770},{"s":"G1","t":3600,"v":1710},{"s":"G1","t":3630,"v":1830},{"s":"G1","t":3650,"v":1770},
{"s":"G2","t":0,"v":0},{"s":"G2","t":140,"v":10},{"s":"G2","t":180,"v":50},{"s":"G2","t":210,"v":130},{"s":"G2","t":240,"v":300},{"s":"G2","t":260,"v":480},{"s":"G2","t":280,"v":720},{"s":"G2","t":300,"v":1000},{"s":"G2","t":320,"v":1280},{"s":"G2","t":340,"v":1520},{"s":"G2","t":360,"v":1700},{"s":"G2","t":380,"v":1800},{"s":"G2","t":400,"v":1740},{"s":"G2","t":420,"v":1840},{"s":"G2","t":450,"v":1770},{"s":"G2","t":480,"v":1850},{"s":"G2","t":510,"v":1750},{"s":"G2","t":540,"v":1830},{"s":"G2","t":570,"v":1930},{"s":"G2","t":600,"v":1810},{"s":"G2","t":630,"v":1710},{"s":"G2","t":660,"v":1790},{"s":"G2","t":690,"v":1870},{"s":"G2","t":720,"v":1770},{"s":"G2","t":750,"v":1690},{"s":"G2","t":780,"v":1810},{"s":"G2","t":810,"v":1910},{"s":"G2","t":840,"v":1830},{"s":"G2","t":870,"v":1750},{"s":"G2","t":900,"v":1850},{"s":"G2","t":930,"v":1770},{"s":"G2","t":960,"v":1690},{"s":"G2","t":990,"v":1830},{"s":"G2","t":1020,"v":1930},{"s":"G2","t":1050,"v":1850},{"s":"G2","t":1080,"v":1770},{"s":"G2","t":1110,"v":1690},{"s":"G2","t":1140,"v":1790},{"s":"G2","t":1170,"v":1870},{"s":"G2","t":1200,"v":1770},{"s":"G2","t":1230,"v":1710},{"s":"G2","t":1260,"v":1810},{"s":"G2","t":1290,"v":1910},{"s":"G2","t":1320,"v":1830},{"s":"G2","t":1350,"v":1750},{"s":"G2","t":1380,"v":1870},{"s":"G2","t":1410,"v":1970},{"s":"G2","t":1440,"v":1850},{"s":"G2","t":1470,"v":1750},{"s":"G2","t":1500,"v":1830},{"s":"G2","t":1530,"v":1910},{"s":"G2","t":1560,"v":1810},{"s":"G2","t":1590,"v":1710},{"s":"G2","t":1620,"v":1660},{"s":"G2","t":1650,"v":1750},{"s":"G2","t":1680,"v":1850},{"s":"G2","t":1710,"v":1930},{"s":"G2","t":1740,"v":1830},{"s":"G2","t":1770,"v":1730},{"s":"G2","t":1800,"v":1810},{"s":"G2","t":1830,"v":1890},{"s":"G2","t":1860,"v":1790},{"s":"G2","t":1890,"v":1690},{"s":"G2","t":1920,"v":1790},{"s":"G2","t":1950,"v":1890},{"s":"G2","t":1980,"v":1830},{"s":"G2","t":2010,"v":1750},{"s":"G2","t":2040,"v":1850},{"s":"G2","t":2070,"v":1930},{"s":"G2","t":2100,"v":1830},{"s":"G2","t":2130,"v":1730},{"s":"G2","t":2160,"v":1810},{"s":"G2","t":2190,"v":1910},{"s":"G2","t":2220,"v":1850},{"s":"G2","t":2250,"v":1750},{"s":"G2","t":2280,"v":1690},{"s":"G2","t":2310,"v":1790},{"s":"G2","t":2340,"v":1890},{"s":"G2","t":2370,"v":1970},{"s":"G2","t":2400,"v":1870},{"s":"G2","t":2430,"v":1770},{"s":"G2","t":2460,"v":1850},{"s":"G2","t":2490,"v":1750},{"s":"G2","t":2520,"v":1670},{"s":"G2","t":2550,"v":1770},{"s":"G2","t":2580,"v":1870},{"s":"G2","t":2610,"v":1930},{"s":"G2","t":2640,"v":1830},{"s":"G2","t":2670,"v":1750},{"s":"G2","t":2700,"v":1830},{"s":"G2","t":2730,"v":1910},{"s":"G2","t":2760,"v":1810},{"s":"G2","t":2790,"v":1710},{"s":"G2","t":2820,"v":1790},{"s":"G2","t":2850,"v":1890},{"s":"G2","t":2880,"v":1970},{"s":"G2","t":2910,"v":1870},{"s":"G2","t":2940,"v":1770},{"s":"G2","t":2970,"v":1690},{"s":"G2","t":3000,"v":1790},{"s":"G2","t":3030,"v":1890},{"s":"G2","t":3060,"v":1810},{"s":"G2","t":3090,"v":1730},{"s":"G2","t":3120,"v":1810},{"s":"G2","t":3150,"v":1910},{"s":"G2","t":3180,"v":1830},{"s":"G2","t":3210,"v":1750},{"s":"G2","t":3240,"v":1850},{"s":"G2","t":3270,"v":1950},{"s":"G2","t":3300,"v":1870},{"s":"G2","t":3330,"v":1770},{"s":"G2","t":3360,"v":1690},{"s":"G2","t":3390,"v":1810},{"s":"G2","t":3420,"v":1910},{"s":"G2","t":3450,"v":1990},{"s":"G2","t":3480,"v":1890},{"s":"G2","t":3510,"v":1790},{"s":"G2","t":3540,"v":1870},{"s":"G2","t":3570,"v":1950},{"s":"G2","t":3600,"v":1850},{"s":"G2","t":3630,"v":1770},{"s":"G2","t":3650,"v":1830},
{"s":"G3","t":0,"v":0},{"s":"G3","t":170,"v":10},{"s":"G3","t":210,"v":40},{"s":"G3","t":240,"v":100},{"s":"G3","t":270,"v":230},{"s":"G3","t":300,"v":450},{"s":"G3","t":320,"v":700},{"s":"G3","t":340,"v":980},{"s":"G3","t":360,"v":1250},{"s":"G3","t":380,"v":1480},{"s":"G3","t":400,"v":1640},{"s":"G3","t":420,"v":1730},{"s":"G3","t":440,"v":1790},{"s":"G3","t":460,"v":1740},{"s":"G3","t":480,"v":1810},{"s":"G3","t":510,"v":1910},{"s":"G3","t":540,"v":1960},{"s":"G3","t":560,"v":1990},{"s":"G3","t":580,"v":1940},{"s":"G3","t":600,"v":1870},{"s":"G3","t":630,"v":1770},{"s":"G3","t":660,"v":1850},{"s":"G3","t":690,"v":1950},{"s":"G3","t":720,"v":1870},{"s":"G3","t":750,"v":1770},{"s":"G3","t":780,"v":1850},{"s":"G3","t":810,"v":1930},{"s":"G3","t":840,"v":1830},{"s":"G3","t":870,"v":1750},{"s":"G3","t":900,"v":1850},{"s":"G3","t":930,"v":1930},{"s":"G3","t":960,"v":1830},{"s":"G3","t":990,"v":1750},{"s":"G3","t":1020,"v":1850},{"s":"G3","t":1050,"v":1910},{"s":"G3","t":1080,"v":1810},{"s":"G3","t":1110,"v":1730},{"s":"G3","t":1140,"v":1830},{"s":"G3","t":1170,"v":1930},{"s":"G3","t":1200,"v":1850},{"s":"G3","t":1230,"v":1750},{"s":"G3","t":1260,"v":1830},{"s":"G3","t":1290,"v":1910},{"s":"G3","t":1320,"v":1810},{"s":"G3","t":1350,"v":1730},{"s":"G3","t":1380,"v":1830},{"s":"G3","t":1410,"v":1930},{"s":"G3","t":1440,"v":1870},{"s":"G3","t":1470,"v":1770},{"s":"G3","t":1500,"v":1850},{"s":"G3","t":1530,"v":1950},{"s":"G3","t":1560,"v":1870},{"s":"G3","t":1590,"v":1790},{"s":"G3","t":1620,"v":1870},{"s":"G3","t":1650,"v":1970},{"s":"G3","t":1680,"v":1890},{"s":"G3","t":1710,"v":1790},{"s":"G3","t":1740,"v":1870},{"s":"G3","t":1770,"v":1950},{"s":"G3","t":1800,"v":1850},{"s":"G3","t":1830,"v":1770},{"s":"G3","t":1860,"v":1870},{"s":"G3","t":1890,"v":1950},{"s":"G3","t":1920,"v":1870},{"s":"G3","t":1950,"v":1790},{"s":"G3","t":1980,"v":1890},{"s":"G3","t":2010,"v":1970},{"s":"G3","t":2040,"v":1890},{"s":"G3","t":2070,"v":1810},{"s":"G3","t":2100,"v":1910},{"s":"G3","t":2130,"v":1960},{"s":"G3","t":2160,"v":1990},{"s":"G3","t":2190,"v":1960},{"s":"G3","t":2220,"v":1920},{"s":"G3","t":2250,"v":1970},{"s":"G3","t":2280,"v":1990},{"s":"G3","t":2310,"v":1950},{"s":"G3","t":2340,"v":1870},{"s":"G3","t":2370,"v":1790},{"s":"G3","t":2400,"v":1890},{"s":"G3","t":2430,"v":1970},{"s":"G3","t":2460,"v":1870},{"s":"G3","t":2490,"v":1790},{"s":"G3","t":2520,"v":1870},{"s":"G3","t":2550,"v":1970},{"s":"G3","t":2580,"v":1890},{"s":"G3","t":2610,"v":1810},{"s":"G3","t":2640,"v":1890},{"s":"G3","t":2670,"v":1970},{"s":"G3","t":2700,"v":1870},{"s":"G3","t":2730,"v":1770},{"s":"G3","t":2760,"v":1850},{"s":"G3","t":2790,"v":1930},{"s":"G3","t":2820,"v":1830},{"s":"G3","t":2850,"v":1750},{"s":"G3","t":2880,"v":1850},{"s":"G3","t":2910,"v":1930},{"s":"G3","t":2940,"v":1850},{"s":"G3","t":2970,"v":1770},{"s":"G3","t":3000,"v":1870},{"s":"G3","t":3030,"v":1950},{"s":"G3","t":3060,"v":1850},{"s":"G3","t":3090,"v":1750},{"s":"G3","t":3120,"v":1830},{"s":"G3","t":3150,"v":1930},{"s":"G3","t":3180,"v":1830},{"s":"G3","t":3210,"v":1730},{"s":"G3","t":3240,"v":1810},{"s":"G3","t":3270,"v":1910},{"s":"G3","t":3300,"v":1830},{"s":"G3","t":3330,"v":1730},{"s":"G3","t":3360,"v":1810},{"s":"G3","t":3390,"v":1890},{"s":"G3","t":3420,"v":1790},{"s":"G3","t":3450,"v":1710},{"s":"G3","t":3480,"v":1810},{"s":"G3","t":3510,"v":1910},{"s":"G3","t":3540,"v":1830},{"s":"G3","t":3570,"v":1750},{"s":"G3","t":3600,"v":1690},{"s":"G3","t":3630,"v":1770},{"s":"G3","t":3650,"v":1730},
{"s":"G4","t":0,"v":0},{"s":"G4","t":200,"v":10},{"s":"G4","t":250,"v":40},{"s":"G4","t":290,"v":130},{"s":"G4","t":320,"v":280},{"s":"G4","t":350,"v":520},{"s":"G4","t":380,"v":820},{"s":"G4","t":410,"v":1120},{"s":"G4","t":440,"v":1400},{"s":"G4","t":470,"v":1600},{"s":"G4","t":500,"v":1720},{"s":"G4","t":520,"v":1780},{"s":"G4","t":540,"v":1830},{"s":"G4","t":570,"v":1910},{"s":"G4","t":600,"v":1810},{"s":"G4","t":630,"v":1730},{"s":"G4","t":660,"v":1810},{"s":"G4","t":690,"v":1890},{"s":"G4","t":720,"v":1830},{"s":"G4","t":750,"v":1750},{"s":"G4","t":780,"v":1850},{"s":"G4","t":810,"v":1930},{"s":"G4","t":840,"v":1830},{"s":"G4","t":870,"v":1770},{"s":"G4","t":900,"v":1870},{"s":"G4","t":930,"v":1770},{"s":"G4","t":960,"v":1690},{"s":"G4","t":990,"v":1810},{"s":"G4","t":1020,"v":1910},{"s":"G4","t":1050,"v":1830},{"s":"G4","t":1080,"v":1750},{"s":"G4","t":1110,"v":1850},{"s":"G4","t":1140,"v":1930},{"s":"G4","t":1170,"v":1850},{"s":"G4","t":1200,"v":1750},{"s":"G4","t":1230,"v":1830},{"s":"G4","t":1260,"v":1910},{"s":"G4","t":1290,"v":1830},{"s":"G4","t":1320,"v":1750},{"s":"G4","t":1350,"v":1850},{"s":"G4","t":1380,"v":1950},{"s":"G4","t":1410,"v":1870},{"s":"G4","t":1440,"v":1770},{"s":"G4","t":1470,"v":1850},{"s":"G4","t":1500,"v":1930},{"s":"G4","t":1530,"v":1850},{"s":"G4","t":1560,"v":1770},{"s":"G4","t":1590,"v":1850},{"s":"G4","t":1620,"v":1930},{"s":"G4","t":1650,"v":1830},{"s":"G4","t":1680,"v":1750},{"s":"G4","t":1710,"v":1830},{"s":"G4","t":1740,"v":1910},{"s":"G4","t":1770,"v":1830},{"s":"G4","t":1800,"v":1750},{"s":"G4","t":1830,"v":1850},{"s":"G4","t":1860,"v":1930},{"s":"G4","t":1890,"v":1830},{"s":"G4","t":1920,"v":1750},{"s":"G4","t":1950,"v":1850},{"s":"G4","t":1980,"v":1930},{"s":"G4","t":2010,"v":1850},{"s":"G4","t":2040,"v":1770},{"s":"G4","t":2070,"v":1850},{"s":"G4","t":2100,"v":1930},{"s":"G4","t":2130,"v":1830},{"s":"G4","t":2160,"v":1750},{"s":"G4","t":2190,"v":1810},{"s":"G4","t":2220,"v":1890},{"s":"G4","t":2250,"v":1810},{"s":"G4","t":2280,"v":1730},{"s":"G4","t":2310,"v":1830},{"s":"G4","t":2340,"v":1910},{"s":"G4","t":2370,"v":1830},{"s":"G4","t":2400,"v":1750},{"s":"G4","t":2430,"v":1850},{"s":"G4","t":2460,"v":1930},{"s":"G4","t":2490,"v":1850},{"s":"G4","t":2520,"v":1770},{"s":"G4","t":2550,"v":1870},{"s":"G4","t":2580,"v":1950},{"s":"G4","t":2610,"v":1870},{"s":"G4","t":2640,"v":1770},{"s":"G4","t":2670,"v":1850},{"s":"G4","t":2700,"v":1930},{"s":"G4","t":2730,"v":1850},{"s":"G4","t":2760,"v":1770},{"s":"G4","t":2790,"v":1870},{"s":"G4","t":2820,"v":1950},{"s":"G4","t":2850,"v":1870},{"s":"G4","t":2880,"v":1790},{"s":"G4","t":2910,"v":1870},{"s":"G4","t":2940,"v":1950},{"s":"G4","t":2970,"v":1870},{"s":"G4","t":3000,"v":1790},{"s":"G4","t":3030,"v":1870},{"s":"G4","t":3060,"v":1950},{"s":"G4","t":3090,"v":1870},{"s":"G4","t":3120,"v":1790},{"s":"G4","t":3150,"v":1870},{"s":"G4","t":3180,"v":1950},{"s":"G4","t":3210,"v":1890},{"s":"G4","t":3240,"v":1810},{"s":"G4","t":3270,"v":1890},{"s":"G4","t":3300,"v":1970},{"s":"G4","t":3330,"v":1890},{"s":"G4","t":3360,"v":1810},{"s":"G4","t":3390,"v":1890},{"s":"G4","t":3420,"v":1970},{"s":"G4","t":3450,"v":1910},{"s":"G4","t":3480,"v":1830},{"s":"G4","t":3510,"v":1910},{"s":"G4","t":3540,"v":1990},{"s":"G4","t":3570,"v":1930},{"s":"G4","t":3600,"v":1960},{"s":"G4","t":3630,"v":1980},{"s":"G4","t":3650,"v":1980},
{"s":"L","t":0,"v":0},{"s":"L","t":3650,"v":0},
{"s":"K","t":0,"v":0},{"s":"K","t":100,"v":1},{"s":"K","t":150,"v":4},{"s":"K","t":180,"v":14},{"s":"K","t":200,"v":30},{"s":"K","t":220,"v":63},{"s":"K","t":240,"v":132},{"s":"K","t":260,"v":263},{"s":"K","t":280,"v":489},{"s":"K","t":300,"v":809},{"s":"K","t":320,"v":1157},{"s":"K","t":340,"v":1444},{"s":"K","t":360,"v":1630},{"s":"K","t":380,"v":1732},{"s":"K","t":400,"v":1783},{"s":"K","t":430,"v":1815},{"s":"K","t":460,"v":1825},{"s":"K","t":500,"v":1829},{"s":"K","t":600,"v":1830},{"s":"K","t":3650,"v":1830}
]},
"encoding": {
  "x": {"field": "t", "type": "quantitative", "scale": {"domain": [-183, 3748], "nice": false, "zero": false},
        "axis": {"values": [0, 1000, 2000, 3000], "format": "d", "title": "Time (days)", "labelPadding": 14, "titleFontSize": 80, "titleX": 1259, "titleY": 199, "titleAlign": "center", "titleBaseline": "alphabetic"}},
  "y": {"field": "v", "type": "quantitative", "scale": {"domain": [-228, 4685], "nice": false, "zero": false},
        "axis": {"values": [0, 1000, 2000, 3000, 4000], "format": "d", "title": "Number of hosts infected", "labelPadding": 21, "titleFontSize": 86, "titleX": -229, "titleY": 519, "titleAngle": 270, "titleAlign": "center", "titleBaseline": "alphabetic"}}
},
"layer": [
  {"transform": [{"filter": {"field": "s", "oneOf": ["S", "Y", "O", "S2"]}}],
   "mark": {"type": "line", "strokeWidth": 5.5, "opacity": 0.8, "strokeJoin": "round"},
   "encoding": {"color": {"field": "s", "type": "nominal", "scale": {"domain": ["S", "Y", "O", "S2"], "range": ["#EE9A60", "#FFBF55", "#F0872A", "#F0A070"]}, "legend": null}}},
  {"transform": [{"filter": {"field": "s", "oneOf": ["G1", "G2", "G3", "G4", "L"]}}],
   "mark": {"type": "line", "strokeWidth": 8, "opacity": 0.8, "strokeJoin": "round"},
   "encoding": {
     "x": {"field": "t", "type": "quantitative", "axis": null},
     "color": {"field": "s", "type": "nominal", "scale": {"domain": ["G1", "G2", "G3", "G4", "L"], "range": ["#3E7E35", "#8EA86A", "#2ECC2E", "#C7F09A", "#78D43C"]}, "legend": null}}},
  {"transform": [{"filter": {"field": "s", "equal": "K"}}],
   "mark": {"type": "line", "strokeWidth": 13, "color": "black", "interpolate": "monotone"},
   "encoding": {
     "x": {"field": "t", "type": "quantitative",
           "axis": {"orient": "top", "domain": false, "ticks": false, "labels": false, "title": "Demographic & Environmental noise (σ=0.12)", "titleX": 37, "titleY": 27, "titleAlign": "left", "titleAngle": 0, "titleBaseline": "alphabetic", "titleFont": "Liberation Sans", "titleFontSize": 101, "titleFontWeight": "bold", "titleColor": "#E38A06"}}}}
],
"resolve": {"scale": {"color": "independent"}, "axis": {"x": "independent"}}
}
